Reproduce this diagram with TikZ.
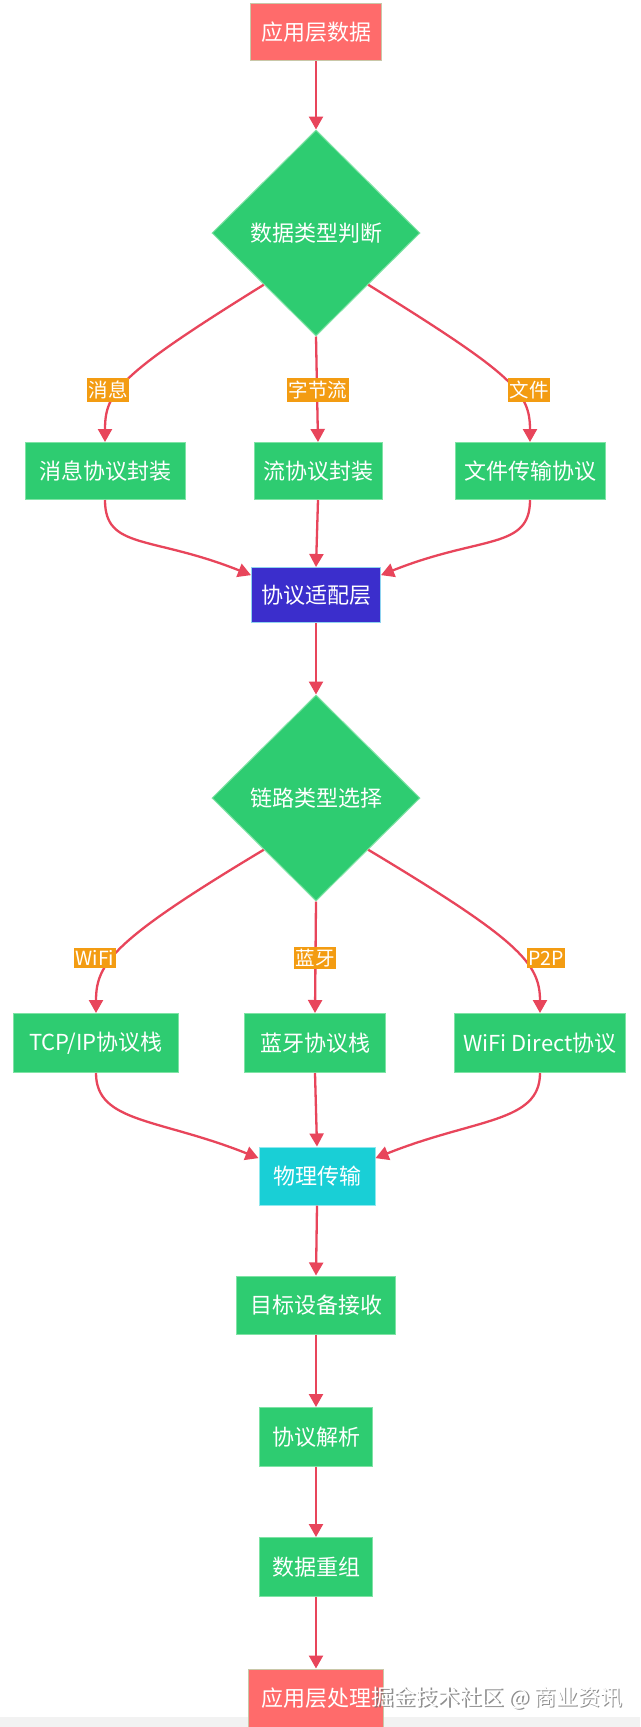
\documentclass[tikz,border=0pt]{standalone}
\usepackage{fontspec}
\setmainfont{Noto Sans CJK SC}
\usetikzlibrary{shapes.geometric,arrows.meta}
\definecolor{cgreen}{HTML}{2ECC71}
\definecolor{cgreenb}{HTML}{7FE3A5}
\definecolor{cred}{HTML}{FF6B6B}
\definecolor{credb}{HTML}{C9C7A8}
\definecolor{cblue}{HTML}{3B2ECC}
\definecolor{cblueb}{HTML}{8FD3F0}
\definecolor{ccyan}{HTML}{19CFD6}
\definecolor{ccyanb}{HTML}{8FE9EE}
\definecolor{corange}{HTML}{F39C12}
\definecolor{cedge}{HTML}{E8455B}
\begin{document}
\begin{tikzpicture}[x=1pt,y=-1pt,
  nbox/.style={rectangle, inner sep=0pt, minimum height=57pt, text=white, line width=1pt,
    font=\fontsize{22pt}{26pt}\selectfont},
  gbox/.style={nbox, fill=cgreen, draw=cgreenb},
  rbox/.style={nbox, fill=cred, draw=credb},
  dia/.style={diamond, fill=cgreen, draw=cgreenb, line width=1pt, inner sep=0pt,
    minimum width=208pt, minimum height=206pt, text=white,
    font=\fontsize{22pt}{26pt}\selectfont},
  lbl/.style={fill=corange, text=white, inner xsep=1.5pt, inner ysep=2.5pt,
    font=\fontsize{19.5pt}{22pt}\selectfont},
  link/.style={draw=cedge, line width=2.3pt, -{Triangle[length=13pt,width=14pt]}}
]
\useasboundingbox (0,0) rectangle (640,1727);
\fill[white] (0,0) rectangle (640,1727);
\fill[black!5] (0,1717) rectangle (640,1727);

% nodes
\node[rbox, minimum width=131pt] (A) at (316,32) {应用层数据};
\node[dia] (D1) at (316,233) {数据类型判断};
\node[gbox, minimum width=160pt] (B1) at (105,471) {消息协议封装};
\node[gbox, minimum width=128pt] (B2) at (318,471) {流协议封装};
\node[gbox, minimum width=150pt] (B3) at (530,471) {文件传输协议};
\node[nbox, fill=cblue, draw=cblueb, minimum width=129pt, minimum height=55pt] (P) at (316,595) {协议适配层};
\node[dia] (D2) at (316,798) {链路类型选择};
\node[gbox, minimum width=165pt, minimum height=59pt] (C1) at (96,1043) {TCP/IP协议栈};
\node[gbox, minimum width=141pt, minimum height=59pt] (C2) at (315,1043) {蓝牙协议栈};
\node[gbox, minimum width=171pt, minimum height=59pt] (C3) at (540,1043) {WiFi Direct协议};
\node[nbox, fill=ccyan, draw=ccyanb, minimum width=116pt, minimum height=58pt] (Q) at (317,1176) {物理传输};
\node[gbox, minimum width=159pt, minimum height=58pt] (T) at (316,1305) {目标设备接收};
\node[gbox, minimum width=113pt, minimum height=59pt] (R) at (316,1437) {协议解析};
\node[gbox, minimum width=113pt, minimum height=59pt] (S) at (316,1567) {数据重组};
\node[rbox, minimum width=135pt, minimum height=58pt] (E) at (316,1698) {应用层处理};

% edges
\draw[link] (A.south) -- (D1.north);
\draw[link] (D1.south west) .. controls +(-145,90) and +(0,-50) .. (B1.north);
\draw[link] (D1.south) -- (B2.north);
\draw[link] (D1.south east) .. controls +(145,90) and +(0,-50) .. (B3.north);
\draw[link] (B1.south) .. controls +(0,50) and +(-100,-40) .. (P.163);
\draw[link] (B2.south) -- (P.north);
\draw[link] (B3.south) .. controls +(0,50) and +(100,-40) .. (P.17);
\draw[link] (P.south) -- (D2.north);
\draw[link] (D2.south west) .. controls +(-150,90) and +(0,-50) .. (C1.north);
\draw[link] (D2.south) -- (C2.north);
\draw[link] (D2.south east) .. controls +(150,90) and +(0,-50) .. (C3.north);
\draw[link] (C1.south) .. controls +(0,50) and +(-100,-40) .. (Q.163);
\draw[link] (C2.south) -- (Q.north);
\draw[link] (C3.south) .. controls +(0,50) and +(100,-40) .. (Q.17);
\draw[link] (Q.south) -- (T.north);
\draw[link] (T.south) -- (R.north);
\draw[link] (R.south) -- (S.north);
\draw[link] (S.south) -- (E.north);

% edge labels
\node[lbl] (L1) at (108,390) {消息};
\node[lbl] (L2) at (318,390) {字节流};
\node[lbl] (L3) at (529,390) {文件};
\node[lbl] (L4) at (95,958) {WiFi};
\node[lbl] (L5) at (315,958) {蓝牙};
\node[lbl] (L6) at (546,958) {P2P};

% watermark
\node[text=black!55, opacity=0.8, font=\fontsize{22pt}{25pt}\selectfont] (W0) at (498.5,1699.5) {掘金技术社区 @ 商业资讯};
\node[text=white, font=\fontsize{22pt}{25pt}\selectfont] (W) at (497,1698) {掘金技术社区 @ 商业资讯};
\end{tikzpicture}
\end{document}
